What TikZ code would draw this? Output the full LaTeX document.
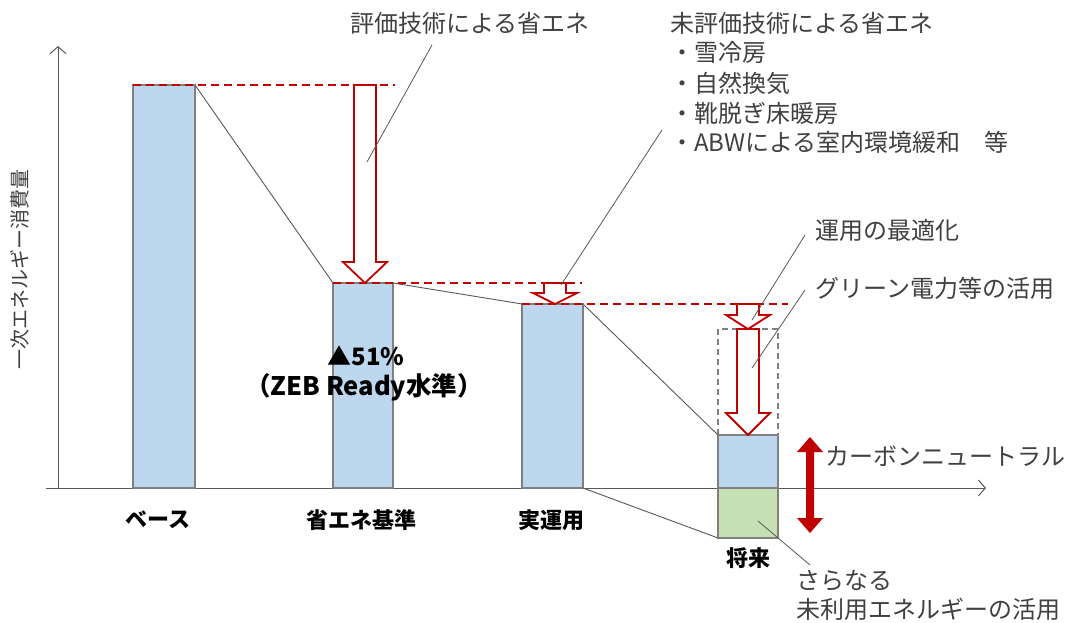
\documentclass[tikz,border=0pt]{standalone}
\usepackage{fontspec}
\setmainfont{Noto Sans CJK JP}
\usetikzlibrary{arrows.meta}
\definecolor{barblue}{HTML}{BDD7EE}
\definecolor{bargreen}{HTML}{C5E0B4}
\definecolor{barline}{HTML}{808080}
\definecolor{redc}{HTML}{C00000}
\definecolor{txtc}{HTML}{404040}
\definecolor{axisc}{HTML}{595959}
\tikzset{
  bar/.style={draw=barline, line width=1.2pt, fill=barblue},
  greenbar/.style={draw=barline, line width=1.2pt, fill=bargreen},
  axis/.style={draw=axisc, line width=1pt, -{Straight Barb[length=7pt,width=16pt,line width=1pt]}},
  reddash/.style={draw=redc, line width=1.5pt, dash pattern=on 8pt off 5pt},
  hollow/.style={draw=redc, line width=1.8pt, fill=white, line join=miter},
  link/.style={draw=axisc, line width=0.9pt},
  callout/.style={draw=axisc, line width=0.8pt},
  gtext/.style={text=txtc, font=\fontsize{24}{28}\selectfont, inner sep=0pt},
  btext/.style={text=black, font=\fontsize{22}{26}\selectfont\bfseries, inner sep=0pt},
}
\newcommand\hollowdown[6]{% cx, ytop, ybot, shaft half, head half, head length
  \draw[hollow] (#1-#4,#2) -- (#1-#4,#3-#6) -- (#1-#5,#3-#6) -- (#1,#3)
    -- (#1+#5,#3-#6) -- (#1+#4,#3-#6) -- (#1+#4,#2) -- cycle;}
\begin{document}
\begin{tikzpicture}[x=1pt,y=-1pt]
\useasboundingbox[fill=white] (0,0) rectangle (1069,622);

% axes
\coordinate (origin) at (58,488);
\coordinate (ytip) at (58,46);
\coordinate (xstart) at (46,488);
\coordinate (xtip) at (986,488);
\draw[axis] (origin) -- (ytip);
\draw[axis] (xstart) -- (xtip);

% bars
\draw[bar] (133,488) rectangle (195,85);
\draw[bar] (333,488) rectangle (393,283);
\draw[bar] (522,488) rectangle (583,304);
\draw[bar] (718,488) rectangle (778,435);
\draw[greenbar] (718,488) rectangle (778,538);
\draw[draw=barline, line width=1.2pt, dash pattern=on 6pt off 4pt] (718,435) -- (718,329) -- (778,329) -- (778,435);

% bar corner coordinates
\coordinate (b1tr) at (195,85);
\coordinate (b2tl) at (333,283);
\coordinate (b2tr) at (393,283);
\coordinate (b3tl) at (522,304);
\coordinate (b3tr) at (583,304);
\coordinate (b3br) at (583,488);
\coordinate (b4tl) at (718,435);
\coordinate (b4bl) at (718,538);

% link lines
\draw[link] (b1tr) -- (b2tl);
\draw[link] (b2tr) -- (b3tl);
\draw[link] (b3tr) -- (b4tl);
\draw[link] (b3br) -- (b4bl);

% red dashed levels
\draw[reddash] (133,85) -- (395,85);
\draw[reddash] (333,283) -- (582,283);
\draw[reddash] (522,304) -- (788,304);

% hollow arrows
\hollowdown{365}{85}{283}{11}{22}{21}
\hollowdown{555}{283}{304}{11}{22}{11}
\hollowdown{748}{304}{329}{11}{22}{14}
\hollowdown{748}{329}{435}{11}{22}{22}

% double arrow
\fill[redc] (810,437) -- (823,452) -- (814,452) -- (814,518) -- (823,518) -- (810,533)
  -- (797,518) -- (806,518) -- (806,452) -- (797,452) -- cycle;

% y axis label
\node[gtext, font=\fontsize{20}{24}\selectfont, rotate=90] (ylab) at (20,269) {一次エネルギー消費量};

% category labels
\node[btext] (l1) at (158,520) {ベース};
\node[btext] (l2) at (361,520) {省エネ基準};
\node[btext] (l3) at (551,520) {実運用};
\node[btext] (l4) at (748,558) {将来};
\node[btext, font=\fontsize{24}{28}\selectfont\bfseries] (p1) at (366,356) {▲51\%};
\node[btext, font=\fontsize{25.5}{30}\selectfont\bfseries] (p2) at (364,387) {（ZEB Ready水準）};

% callout texts
\node[gtext] (c1) at (470,23) {評価技術による省エネ};
\node[gtext, anchor=west] (c2) at (670,23) {未評価技術による省エネ};
\node[gtext, anchor=west] (c2a) at (670,53) {・雪冷房};
\node[gtext, anchor=west] (c2b) at (670,83) {・自然換気};
\node[gtext, anchor=west] (c2c) at (670,113) {・靴脱ぎ床暖房};
\node[gtext, anchor=west] (c2d) at (670,142) {・ABWによる室内環境緩和　等};
\node[gtext, anchor=west] (c3) at (815,230) {運用の最適化};
\node[gtext, anchor=west] (c4) at (815,288) {グリーン電力等の活用};
\node[gtext, anchor=west] (c5) at (825,456) {カーボンニュートラル};
\node[gtext, anchor=west] (c6) at (796,581) {さらなる};
\node[gtext, anchor=west] (c7) at (796,609) {未利用エネルギーの活用};

% callout lines
\coordinate (k1a) at (432,45);  \coordinate (k1b) at (367,162);
\coordinate (k2a) at (662,130); \coordinate (k2b) at (561,285);
\coordinate (k3a) at (805,235); \coordinate (k3b) at (752,320);
\coordinate (k4a) at (805,290); \coordinate (k4b) at (752,368);
\coordinate (k6a) at (810,565); \coordinate (k6b) at (758,521);
\draw[callout] (k1a) -- (k1b);
\draw[callout] (k2a) -- (k2b);
\draw[callout] (k3a) -- (k3b);
\draw[callout] (k4a) -- (k4b);
\draw[callout] (k6a) -- (k6b);
\end{tikzpicture}
\end{document}
